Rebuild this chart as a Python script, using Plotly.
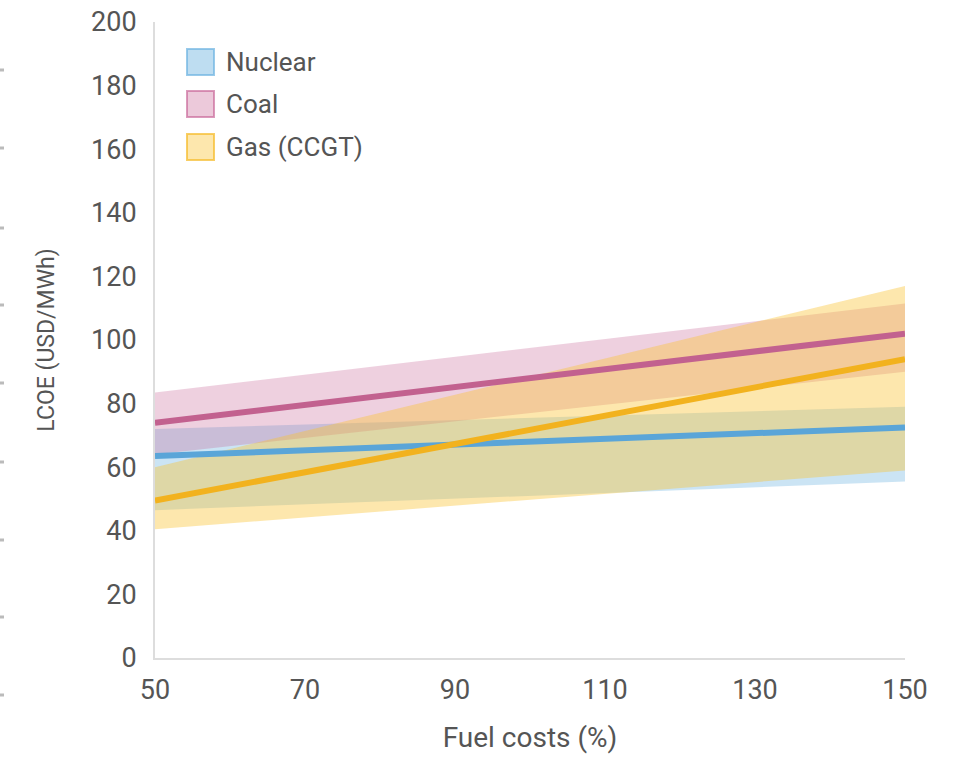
import plotly.graph_objects as go

# ---- data ----
fuel_cost = [50, 150]
nuclear_mid = [63.5, 72.5]
nuclear_lo = [46.5, 55.5]
nuclear_hi = [72.0, 79.0]
coal_mid = [74.0, 102.0]
coal_lo = [64.0, 90.0]
coal_hi = [83.5, 111.5]
gas_mid = [49.5, 94.0]
gas_lo = [40.5, 59.0]
gas_hi = [60.0, 117.0]

series = [
    ("Nuclear", nuclear_mid, nuclear_lo, nuclear_hi, "#5aa5d8", "rgba(110,180,225,0.36)", "rgba(110,180,225,0.7)"),
    ("Coal", coal_mid, coal_lo, coal_hi, "#c2618f", "rgba(200,100,150,0.30)", "rgba(200,100,150,0.65)"),
    ("Gas (CCGT)", gas_mid, gas_lo, gas_hi, "#f2b21e", "rgba(250,195,50,0.40)", "rgba(245,190,50,0.75)"),
]

FONT = "Roboto, 'Noto Sans', sans-serif"
TXT = "#555555"

fig = go.Figure()
for name, mid, lo, hi, lc, fc, bc in series:
    fig.add_trace(go.Scatter(
        x=fuel_cost + fuel_cost[::-1], y=hi + lo[::-1],
        fill="toself", fillcolor=fc, line=dict(width=0),
        mode="lines", hoverinfo="skip", showlegend=False))
for name, mid, lo, hi, lc, fc, bc in series:
    fig.add_trace(go.Scatter(
        x=fuel_cost, y=mid, mode="lines", name=name,
        line=dict(color=lc, width=6), showlegend=False))

# the page body margin is removed (post_script), so figure pixels = window pixels
W, H = 953, 759
L, R, T, B = 155, 48, 22, 101
pw, ph = W - L - R, H - T - B
def px(xp):  # window pixel -> paper
    return (xp - L) / pw
def py(yp):
    return 1 - (yp - T) / ph

# manual legend (swatch + label)
shapes = []
annotations = []
leg_y = [62, 104, 147]
for (name, mid, lo, hi, lc, fc, bc), yc in zip(series, leg_y):
    shapes.append(dict(type="rect", xref="paper", yref="paper",
                       x0=px(187), x1=px(214), y0=py(yc - 13), y1=py(yc + 13),
                       fillcolor=fc.replace("0.36", "0.45").replace("0.30", "0.35"),
                       line=dict(color=bc, width=2)))
    annotations.append(dict(xref="paper", yref="paper", x=px(224), y=py(yc),
                            xanchor="left", yanchor="middle", showarrow=False,
                            text=name, font=dict(family=FONT, size=26, color=TXT)))

# small marks at the left edge of the picture (cropped neighbour chart)
for yt in [70, 148, 228, 305, 383, 462, 540, 617, 695]:
    shapes.append(dict(type="line", xref="paper", yref="paper",
                       x0=px(0), x1=px(4), y0=py(yt), y1=py(yt),
                       line=dict(color="#bbbbbb", width=3)))

fig.update_layout(
    width=W, height=H,
    margin=dict(l=L, r=R, t=T, b=B, autoexpand=False),
    paper_bgcolor="white", plot_bgcolor="white",
    font=dict(family=FONT, size=27, color=TXT),
    shapes=shapes, annotations=annotations,
    showlegend=False,
)
fig.update_xaxes(
    range=[50, 150], tickvals=[50, 70, 90, 110, 130, 150],
    showgrid=False, zeroline=False, showline=True, linecolor="#dddddd", linewidth=2,
    ticks="", ticklabelstandoff=7, automargin=False, ticklabeloverflow="allow",
    tickfont=dict(family=FONT, size=27, color=TXT),
    title=dict(text="Fuel costs (%)", standoff=22, font=dict(family=FONT, size=28, color=TXT)),
)
fig.update_yaxes(
    range=[0, 200], tickvals=list(range(0, 201, 20)),
    showgrid=False, zeroline=False, showline=True, linecolor="#dddddd", linewidth=2,
    ticks="", ticklabelstandoff=11, automargin=False, ticklabeloverflow="allow",
    tickfont=dict(family=FONT, size=27, color=TXT),
    title=dict(text="LCOE (USD/MWh)", standoff=30, font=dict(family=FONT, size=23, color=TXT)),
)

fig.write_html("out.html", config={"displayModeBar": False},
               post_script="document.body.style.margin='0';")
